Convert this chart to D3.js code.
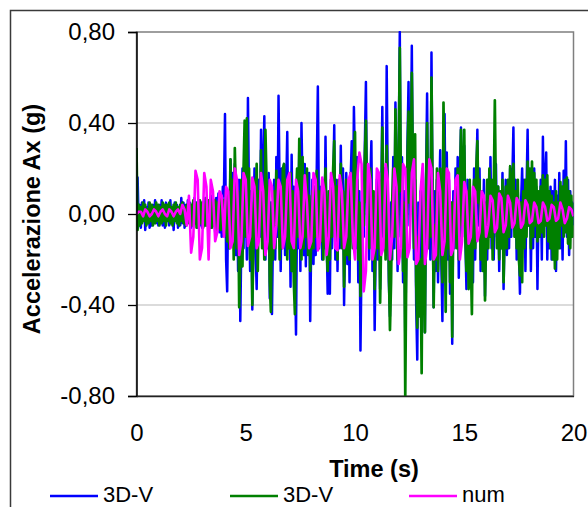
<!DOCTYPE html>
<html>
<head>
<meta charset="utf-8">
<script src="https://cdn.jsdelivr.net/npm/d3@7"></script>
<style>
  html, body { margin: 0; padding: 0; background: #fff; }
  svg { display: block; font-family: "Liberation Sans", Arial, sans-serif; }
</style>
</head>
<body>
<svg id="chart" width="588" height="507"></svg>
<script>
// ---------------- data ----------------
const seriesNames = ["3D-V", "3D-V", "num"];
const seriesColors = ["#0000ff", "#008000", "#ff00ff"];
const xTicks = [0, 5, 10, 15, 20];
const xTickLabels = ["0", "5", "10", "15", "20"];
const yTicks = [-0.8, -0.4, 0, 0.4, 0.8];
const yTickLabels = ["-0,80", "-0,40", "0,00", "0,40", "0,80"];
const gridValues = [-0.4, 0, 0.4];

// sample step (s) of the measured records and of the numerical record
const dtMeas = 0.05;
const dtNum = 0.1;

// 3D-V (blue), one row per second
const blue = [
  0.00, 0.16,-0.05, 0.04,-0.06, 0.05,-0.03, 0.06,-0.07, 0.03,-0.04, 0.05,-0.06, 0.02,-0.05, 0.04,-0.03, 0.06,-0.04, 0.03,
 -0.05, 0.04,-0.03, 0.06,-0.05, 0.03,-0.06, 0.05,-0.02, 0.04,-0.05, 0.06,-0.04, 0.03,-0.07, 0.05,-0.03, 0.04,-0.06, 0.03,
 -0.05, 0.07,-0.04, 0.05,-0.06, 0.04,-0.05, 0.06,-0.03, 0.05,-0.06, 0.04,-0.05, 0.07,-0.04, 0.05,-0.06, 0.06,-0.05, 0.04,
 -0.06, 0.05,-0.04, 0.07,-0.05, 0.06,-0.07, 0.05,-0.06, 0.08,-0.05, 0.06,-0.08, 0.07,-0.05, 0.09,-0.08, 0.06,-0.10, 0.12,
  0.08, 0.44,-0.20,-0.34, 0.10,-0.15, 0.24,-0.12, 0.18,-0.05, 0.22,-0.18, 0.10,-0.25, 0.15,-0.47,-0.10, 0.20,-0.15, 0.30,
  0.12,-0.20, 0.51, 0.05,-0.25, 0.10,-0.42,-0.10, 0.20,-0.15,-0.33, 0.05, 0.15,-0.10, 0.37,-0.05, 0.20, 0.43,-0.20, 0.10,
 -0.15, 0.18,-0.37, 0.05,-0.44,-0.05, 0.15,-0.20, 0.25,-0.10, 0.52, 0.10,-0.25, 0.20,-0.12, 0.22,-0.18, 0.10, 0.36,-0.15,
  0.15,-0.32, 0.26,-0.10, 0.12,-0.20,-0.53, 0.05,-0.15, 0.30,-0.25, 0.40, 0.10,-0.18, 0.22,-0.23, 0.15,-0.10, 0.18,-0.47,
 -0.10, 0.15,-0.22, 0.10,-0.18, 0.20, 0.56, 0.00,-0.12, 0.12,-0.20, 0.08,-0.15, 0.34,-0.10,-0.35, 0.05,-0.35, 0.12,-0.15,
  0.10, 0.39,-0.20, 0.15,-0.25, 0.10,-0.15, 0.30,-0.10, 0.20,-0.40,-0.05, 0.18,-0.22, 0.10,-0.30, 0.15, 0.32,-0.10, 0.47,
  0.20,-0.15, 0.25,-0.30, 0.10,-0.60,-0.20, 0.15,-0.10, 0.30, 0.58,-0.05, 0.20,-0.20, 0.15, 0.32,-0.25, 0.05,-0.51,-0.10,
  0.15,-0.20, 0.10,-0.33, 0.05, 0.47,-0.10, 0.20,-0.15, 0.65, 0.10,-0.30,-0.45, 0.05,-0.20, 0.25,-0.15, 0.49, 0.10,-0.25,
  0.30, 0.80,-0.10, 0.25,-0.30, 0.10,-0.54,-0.15, 0.30, 0.58,-0.05, 0.20, 0.74, 0.10,-0.20, 0.15,-0.40,-0.64, 0.05,-0.30,
  0.10,-0.25, 0.20,-0.15,-0.52, 0.15, 0.53,-0.10, 0.20,-0.20, 0.71, 0.05,-0.41, 0.10,-0.25, 0.15,-0.30, 0.05, 0.28,-0.20,
 -0.47, 0.10, 0.44,-0.10, 0.27,-0.20, 0.15,-0.35, 0.05,-0.57, 0.10,-0.15, 0.20,-0.10, 0.25,-0.28, 0.15, 0.38,-0.10, 0.20,
  0.30,-0.10,-0.33, 0.15,-0.20, 0.10,-0.25, 0.05,-0.30, 0.20,-0.20, 0.15, 0.37,-0.05, 0.20,-0.25, 0.10,-0.15, 0.15,-0.36,
  0.05,-0.20, 0.15,-0.10, 0.25,-0.15, 0.10,-0.20, 0.15, 0.22,-0.10, 0.12,-0.25, 0.05,-0.15, 0.18,-0.33,-0.05, 0.15,-0.18,
  0.10,-0.15, 0.20,-0.10, 0.15, 0.38,-0.05, 0.15,-0.20, 0.10,-0.15,-0.35, 0.05, 0.20,-0.10, 0.15,-0.25, 0.10, 0.37,-0.05,
  0.15,-0.25, 0.10,-0.15, 0.20,-0.10, 0.12,-0.33, 0.05,-0.10, 0.15,-0.20, 0.34,-0.05, 0.15, 0.27,-0.20, 0.10,-0.15, 0.12,
 -0.20, 0.10,-0.12, 0.15,-0.25, 0.08,-0.10, 0.18,-0.15, 0.10,-0.20, 0.19,-0.05, 0.32,-0.10, 0.15,-0.18, 0.10,-0.10, 0.05,
 -0.05
];

// 3D-V (green)
const green = [
  0.29,-0.07, 0.04,-0.05, 0.03,-0.04, 0.05,-0.03, 0.04,-0.05, 0.02,-0.04, 0.05,-0.03, 0.04,-0.05, 0.03,-0.04, 0.05,-0.03,
  0.04,-0.05, 0.03,-0.04, 0.05,-0.03, 0.04,-0.05, 0.04,-0.03, 0.05,-0.04, 0.03,-0.05, 0.04,-0.03, 0.05,-0.04, 0.03,-0.05,
  0.04,-0.03, 0.05,-0.04, 0.03,-0.05, 0.04,-0.04, 0.05,-0.03, 0.04,-0.05, 0.06,-0.04, 0.05,-0.06, 0.04,-0.05, 0.06,-0.04,
  0.05,-0.06, 0.04,-0.05, 0.07,-0.05, 0.06,-0.04, 0.05,-0.06, 0.07,-0.05, 0.06,-0.07, 0.05,-0.06, 0.08,-0.07, 0.06,-0.05,
  0.06,-0.08, 0.10,-0.12, 0.08,-0.15, 0.24,-0.10, 0.15,-0.20, 0.29, 0.05,-0.15, 0.10,-0.41,-0.20, 0.15,-0.23, 0.20, 0.41,
 -0.10, 0.42,-0.05, 0.20,-0.20, 0.05,-0.40,-0.15, 0.15,-0.10, 0.22,-0.25, 0.10,-0.05, 0.28,-0.15, 0.10,-0.20, 0.37, 0.15,
 -0.10, 0.12,-0.30,-0.43, 0.05,-0.20, 0.10,-0.15, 0.19,-0.05, 0.15,-0.20, 0.08,-0.15, 0.20, 0.22,-0.10, 0.15,-0.20, 0.12,
 -0.15, 0.18,-0.25, 0.10,-0.30,-0.44, 0.05, 0.20,-0.10, 0.33, 0.10,-0.20, 0.25,-0.15, 0.15,-0.10, 0.20,-0.18, 0.08,-0.25,
 -0.12, 0.10,-0.15, 0.12,-0.10, 0.19, 0.05,-0.15, 0.10,-0.12, 0.15,-0.20, 0.08, 0.20,-0.15,-0.25, 0.10,-0.20, 0.15,-0.10,
  0.20, 0.32,-0.10, 0.12,-0.20, 0.15,-0.10, 0.22,-0.15, 0.10,-0.32,-0.10, 0.15,-0.18, 0.08,-0.20, 0.18, 0.10,-0.15, 0.25,
  0.36,-0.10, 0.15,-0.20, 0.05,-0.36,-0.15, 0.10,-0.05, 0.25, 0.41, 0.05, 0.15,-0.15, 0.20, 0.10,-0.20, 0.10,-0.33,-0.05,
  0.10,-0.15, 0.15,-0.39,-0.10, 0.38, 0.05, 0.15,-0.20, 0.30, 0.05,-0.25,-0.51,-0.30, 0.05, 0.20,-0.10, 0.46, 0.15,-0.20,
  0.25, 0.73, 0.10, 0.20,-0.25, 0.05,-0.80,-0.20, 0.25, 0.45, 0.05, 0.15, 0.62, 0.20,-0.15, 0.35,-0.30,-0.50,-0.10,-0.45,
 -0.20,-0.70, 0.10,-0.10,-0.52, 0.10, 0.40,-0.15, 0.15,-0.10, 0.60, 0.10,-0.41,-0.05,-0.20, 0.20,-0.25, 0.10, 0.20,-0.15,
 -0.30, 0.49, 0.10,-0.43, 0.20,-0.15, 0.10,-0.30, 0.05,-0.54, 0.05,-0.10, 0.15,-0.15, 0.20,-0.20, 0.10, 0.37,-0.05, 0.15,
  0.37,-0.10,-0.25, 0.10,-0.33, 0.15,-0.20,-0.44, 0.05, 0.15,-0.15, 0.20, 0.32, 0.05, 0.15,-0.20, 0.10,-0.25, 0.05,-0.38,
 -0.10, 0.15,-0.15, 0.20,-0.10, 0.15,-0.20, 0.10, 0.50, 0.05,-0.15, 0.12,-0.20, 0.10,-0.15, 0.15,-0.30,-0.05, 0.12,-0.15,
  0.15,-0.10, 0.21,-0.05, 0.12, 0.22,-0.10, 0.10,-0.15, 0.15,-0.20,-0.27, 0.05,-0.30, 0.10,-0.15, 0.15,-0.10, 0.23,-0.05,
  0.20,-0.15, 0.23,-0.10, 0.18,-0.05, 0.15,-0.12, 0.10,-0.10, 0.12,-0.08, 0.17,-0.10, 0.15,-0.05, 0.17,-0.12, 0.10,-0.15,
  0.08,-0.20, 0.05,-0.24, 0.10,-0.20, 0.05,-0.15, 0.14,-0.05, 0.12,-0.10, 0.15,-0.08, 0.16,-0.13, 0.10,-0.15, 0.08,-0.10,
  0.05
];

// num (magenta), one row per second
const num = [
  0.00, 0.01, 0.01,-0.01, 0.02, 0.01,-0.01, 0.00, 0.02, 0.01,
 -0.01, 0.01, 0.02, 0.00,-0.01, 0.02, 0.01,-0.01, 0.01, 0.02,
  0.00, 0.04, 0.02,-0.05, 0.08,-0.17,-0.10, 0.19, 0.15,-0.20,
 -0.15, 0.18, 0.12,-0.20, 0.15, 0.10,-0.12,-0.08, 0.10, 0.08,
 -0.10, 0.12, 0.10,-0.15,-0.12, 0.20, 0.15,-0.18,-0.12, 0.18,
  0.15,-0.14,-0.10, 0.16, 0.12,-0.15,-0.12, 0.18, 0.10,-0.18,
 -0.12, 0.15, 0.12,-0.15,-0.05, 0.15, 0.12,-0.15,-0.10, 0.15,
  0.18,-0.12,-0.15, 0.15, 0.10,-0.15,-0.10, 0.17, 0.05,-0.15,
 -0.12, 0.18, 0.15,-0.16,-0.12, 0.16, 0.10,-0.18,-0.10, 0.18,
  0.12,-0.15,-0.16, 0.17, 0.10,-0.15,-0.10, 0.15, 0.18,-0.10,
 -0.20, 0.15, 0.27, 0.22,-0.34,-0.25, 0.22, 0.15,-0.20,-0.15,
  0.20, 0.18,-0.18,-0.15, 0.22, 0.15,-0.20,-0.10, 0.20, 0.12,
 -0.22,-0.15, 0.22, 0.20,-0.19,-0.15, 0.18, 0.24,-0.22,-0.20,
  0.10, 0.22,-0.22,-0.15, 0.24, 0.20,-0.20,-0.18, 0.18, 0.10,
 -0.18,-0.12, 0.20, 0.18,-0.18,-0.15, 0.15, 0.17,-0.20,-0.12,
  0.14, 0.10,-0.13,-0.10, 0.12, 0.10,-0.12,-0.08, 0.10, 0.08,
 -0.10,-0.05, 0.08, 0.06,-0.08,-0.06, 0.09, 0.07,-0.08,-0.05,
  0.08, 0.05,-0.06,-0.04, 0.07, 0.05,-0.06,-0.04, 0.06, 0.04,
 -0.04,-0.03, 0.05, 0.03,-0.04,-0.03, 0.05, 0.03,-0.03,-0.02,
  0.04, 0.03,-0.03,-0.02, 0.05, 0.02,-0.04,-0.02, 0.03, 0.02,
 -0.01
];

// ---------------- drawing ----------------
const svg = d3.select("#chart");
const plot = { left: 136.5, right: 573.5, top: 32, bottom: 396 };

const x = d3.scaleLinear().domain([0, 20]).range([plot.left, plot.right]);
const y = d3.scaleLinear().domain([-0.8, 0.8]).range([plot.bottom, plot.top]);

// outer chart frame
svg.append("rect")
  .attr("x", 10.5).attr("y", 10.5)
  .attr("width", 600).attr("height", 520)
  .attr("fill", "none").attr("stroke", "#3a3a3a").attr("stroke-width", 1.5);

// gridlines
svg.append("g").selectAll("line").data(gridValues).join("line")
  .attr("x1", plot.left).attr("x2", plot.right)
  .attr("y1", d => y(d)).attr("y2", d => y(d))
  .attr("stroke", "#cfcfcf").attr("stroke-width", 1.5);

// plot area border (top/right gray)
svg.append("rect")
  .attr("x", plot.left).attr("y", plot.top)
  .attr("width", plot.right - plot.left).attr("height", plot.bottom - plot.top)
  .attr("fill", "none").attr("stroke", "#7f7f7f").attr("stroke-width", 1.5);

// clip
svg.append("defs").append("clipPath").attr("id", "clip")
  .append("rect")
  .attr("x", plot.left).attr("y", plot.top - 1)
  .attr("width", plot.right - plot.left).attr("height", plot.bottom - plot.top + 1);

const seriesData = [blue, green, num];
const seriesDt = [dtMeas, dtMeas, dtNum];
const widths = [2.5, 2.7, 2.6];

const g = svg.append("g").attr("clip-path", "url(#clip)");
seriesData.forEach((arr, k) => {
  const line = d3.line()
    .x((d, i) => x(i * seriesDt[k]))
    .y(d => y(d));
  g.append("path")
    .attr("d", line(arr))
    .attr("fill", "none")
    .attr("stroke", seriesColors[k])
    .attr("stroke-width", widths[k])
    .attr("stroke-linejoin", "round");
});

// y axis
const yAxis = d3.axisLeft(y)
  .tickValues(yTicks)
  .tickSize(8.5)
  .tickPadding(13)
  .tickFormat((d, i) => yTickLabels[i]);
const ya = svg.append("g").attr("transform", `translate(${plot.left},0)`).call(yAxis);
ya.select(".domain").attr("stroke", "#000").attr("stroke-width", 1.5);
ya.selectAll(".tick line").attr("stroke", "#000").attr("stroke-width", 1.3);
ya.selectAll("text").attr("font-size", 24).attr("fill", "#000")
  .attr("font-family", "'Liberation Sans', Arial, sans-serif");

// x axis
const xAxis = d3.axisBottom(x)
  .tickValues(xTicks)
  .tickSize(0)
  .tickPadding(28)
  .tickFormat((d, i) => xTickLabels[i]);
const xa = svg.append("g").attr("transform", `translate(0,${plot.bottom})`).call(xAxis);
xa.select(".domain").attr("stroke", "#222").attr("stroke-width", 1.5);
xa.selectAll("text").attr("font-size", 24).attr("fill", "#000")
  .attr("font-family", "'Liberation Sans', Arial, sans-serif");

// axis titles
svg.append("text")
  .attr("x", 374).attr("y", 477)
  .attr("text-anchor", "middle")
  .attr("font-size", 23.5).attr("font-weight", "bold")
  .text("Time (s)");

svg.append("text")
  .attr("transform", "translate(40,219) rotate(-90)")
  .attr("text-anchor", "middle")
  .attr("font-size", 23.5).attr("font-weight", "bold")
  .text("Accelerazione Ax (g)");

// legend
const legX = [50, 230, 409];
const leg = svg.append("g");
seriesNames.forEach((name, k) => {
  leg.append("line")
    .attr("x1", legX[k]).attr("x2", legX[k] + 48)
    .attr("y1", 496).attr("y2", 496)
    .attr("stroke", seriesColors[k]).attr("stroke-width", 2.5);
  leg.append("text")
    .attr("x", legX[k] + 53).attr("y", 502)
    .attr("font-size", 22)
    .text(name);
});
</script>
</body>
</html>
